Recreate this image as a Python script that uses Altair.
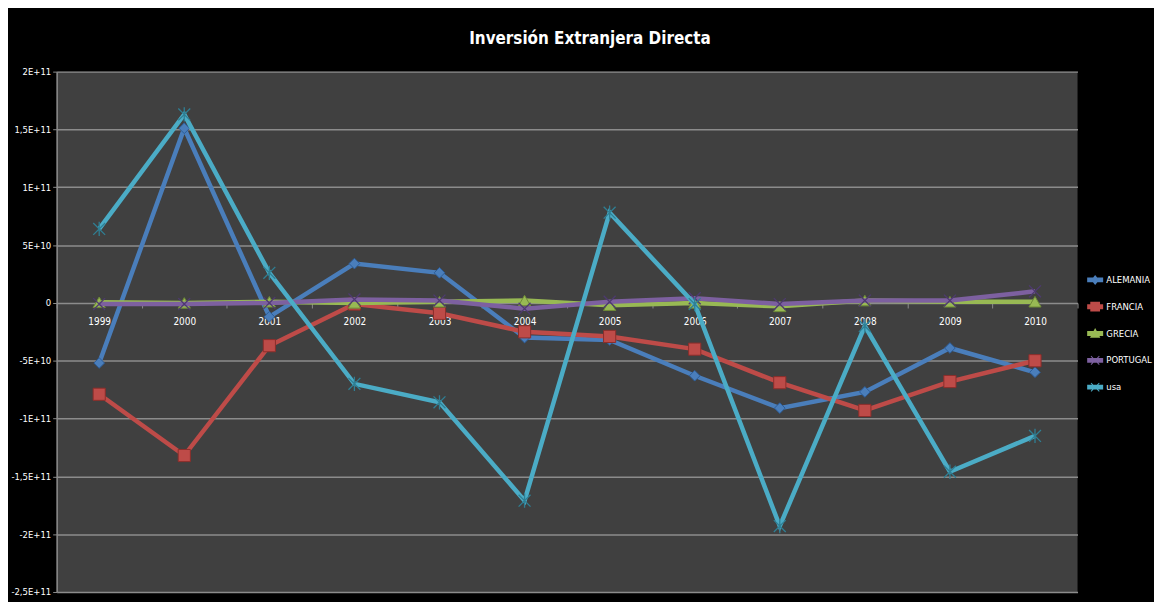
import altair as alt
import pandas as pd

years = [str(y) for y in range(1999, 2011)]
series = ["ALEMANIA", "FRANCIA", "GRECIA", "PORTUGAL", "usa"]

# values in units of 1e9
alemania = [-52, 151, -12, 34, 26, -30, -32, -63, -91, -77, -39, -60]
francia = [-79, -132, -37, -1, -9, -25, -29, -40, -69, -93, -68, -50]
grecia = [0.5, 0, 1, 0, 1, 2, -2, 0, -3, 2, 1, 1]
portugal = [-1, -1, 0, 3, 2, -5, 1, 4, -1, 2, 2, 10]
usa = [64, 163, 26, -70, -86, -171, 78, -1, -193, -20, -146, -115]

colors = ["#4A7EBB", "#BE4B48", "#98B954", "#7D60A0", "#4BACC6"]
marker_strokes = ["#2C5D98", "#8C2D2A", "#6E8A37", "#4E3A70", "#2F7F94"]

y_ticks = [2e11, 1.5e11, 1e11, 5e10, 0, -5e10, -1e11, -1.5e11, -2e11, -2.5e11]
y_tick_labels = ["2E+11", "1,5E+11", "1E+11", "5E+10", "0", "-5E+10",
                 "-1E+11", "-1,5E+11", "-2E+11", "-2,5E+11"]

rows = []
for s, vals in zip(series, [alemania, francia, grecia, portugal, usa]):
    for y, v in zip(years, vals):
        rows.append({"year": y, "series": s, "value": v * 1e9})
df = pd.DataFrame(rows)

FONT = "DejaVu Sans Condensed, Liberation Sans Narrow, sans-serif"
GRID = "#8C8C8C"

label_expr = ""
for v, l in zip(y_ticks, y_tick_labels):
    label_expr += f"abs(datum.value - ({v:.0f})) < 1 ? '{l}' : "
label_expr += "''"

x_enc = alt.X(
    "year:O",
    scale=alt.Scale(type="band", domain=years, paddingInner=0, paddingOuter=0),
    axis=alt.Axis(
        title=None, orient="bottom", offset=-291, labelAngle=0,
        domainColor=GRID, tickColor=GRID, tickSize=5, tickBand="extent",
        labelColor="white", labelFont=FONT, labelFontSize=10, labelPadding=9,
        grid=False,
    ),
)
y_enc = alt.Y(
    "value:Q",
    scale=alt.Scale(domain=[-2.5e11, 2e11], nice=False, zero=False),
    axis=alt.Axis(
        title=None, values=y_ticks, labelExpr=label_expr, grid=True,
        gridColor=GRID, gridWidth=1.5, domainColor=GRID, domainWidth=1.5,
        tickColor=GRID, tickSize=4, labelColor="white", labelFont=FONT,
        labelFontSize=9.5, labelPadding=2,
    ),
)

marker_defs = {
    "ALEMANIA": dict(shape="diamond", size=115, filled=True),
    "FRANCIA": dict(shape="square", size=150, filled=True),
    "GRECIA": dict(shape="triangle-up", size=150, filled=True),
    "PORTUGAL": dict(shape="M-1,-1L1,1M-1,1L1,-1", size=144, filled=False),
    "usa": dict(shape="M-1,-1L1,1M-1,1L1,-1M0,-1.2L0,1.2", size=144, filled=False),
}

layers = []
for s, c, sc in zip(series, colors, marker_strokes):
    base = alt.Chart(df).transform_filter(alt.datum.series == s)
    layers.append(base.mark_line(strokeWidth=4.5, color=c).encode(x=x_enc, y=y_enc))
    md = marker_defs[s]
    if md["filled"]:
        pt = base.mark_point(shape=md["shape"], size=md["size"], filled=True,
                             fill=c, stroke=sc, strokeWidth=1, opacity=1)
    else:
        pt = base.mark_point(shape=md["shape"], size=md["size"], filled=False,
                             stroke=sc, strokeWidth=1.3, opacity=1)
    layers.append(pt.encode(x=x_enc, y=y_enc))

bar = "M-2.3,-0.7H2.3V0.7H-2.3Z "
xpoly = "M-1.1,-1.3L0,-0.2L1.1,-1.3L1.3,-1.1L0.2,0L1.3,1.1L1.1,1.3L0,0.2L-1.1,1.3L-1.3,1.1L-0.2,0L-1.3,-1.1Z"
legend_paths = [
    bar + "M0,-1.45L1.15,0L0,1.45L-1.15,0Z",
    bar + "M-1.4,-1.4H1.4V1.4H-1.4Z",
    bar + "M0,-1.6L1.5,1.2H-1.5Z",
    bar + xpoly,
    bar + xpoly,
]

leg = alt.Legend(
    title=None, orient="none", legendX=1041, legendY=205,
    labelColor="white", labelFont=FONT, labelFontSize=9.5, labelOffset=6.5,
    symbolSize=49, symbolStrokeWidth=0, symbolOpacity=1, rowPadding=16,
    labelLimit=200,
)
legend_layer = alt.Chart(df).transform_filter("false").mark_point(
    filled=True, size=49
).encode(
    x=x_enc, y=y_enc,
    color=alt.Color("series:N", scale=alt.Scale(domain=series, range=colors), legend=leg),
    shape=alt.Shape("series:N", scale=alt.Scale(domain=series, range=legend_paths), legend=leg),
)
layers.append(legend_layer)

chart = alt.layer(*layers).properties(
    width=1028,
    height=524,
    autosize=alt.AutoSizeParams(type="none"),
    padding={"left": 49, "top": 62, "right": 77, "bottom": 8},
    background="black",
    title=alt.TitleParams(
        "Inversión Extranjera Directa", color="white", fontSize=17,
        fontWeight="bold", font=FONT, anchor="middle", offset=19, dx=23,
    ),
).configure_view(fill="#404040", stroke=None)

chart.save("out.html", embed_options={"renderer": "svg", "actions": False})
